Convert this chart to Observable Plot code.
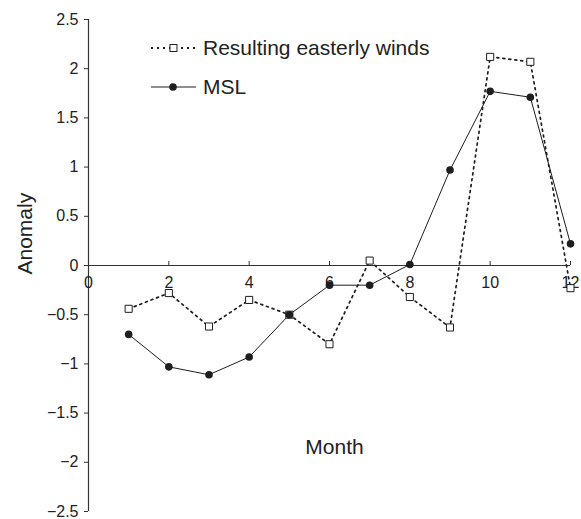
<!DOCTYPE html>
<html>
<head>
<meta charset="utf-8">
<script src="https://cdn.jsdelivr.net/npm/d3@7"></script>
<script src="https://cdn.jsdelivr.net/npm/@observablehq/plot@0.6"></script>
<style>
  html, body { margin: 0; padding: 0; background: #fff; }
  #chart svg { font-family: "Liberation Sans", Arial, sans-serif; }
</style>
</head>
<body>
<div id="chart"></div>
<script>
const months = [1, 2, 3, 4, 5, 6, 7, 8, 9, 10, 11, 12];
const winds = [-0.44, -0.28, -0.62, -0.35, -0.50, -0.80, 0.05, -0.32, -0.63, 2.12, 2.07, -0.23];
const msl = [-0.70, -1.03, -1.11, -0.93, -0.50, -0.20, -0.20, 0.01, 0.97, 1.77, 1.71, 0.22];
const xTicks = [0, 2, 4, 6, 8, 10, 12];
const yTicks = [-2.5, -2, -1.5, -1, -0.5, 0, 0.5, 1, 1.5, 2, 2.5];
const seriesNames = ["Resulting easterly winds", "MSL"];
const xLabel = "Month";
const yLabel = "Anomaly";

const windsData = months.map((m, i) => ({month: m, value: winds[i]}));
const mslData = months.map((m, i) => ({month: m, value: msl[i]}));

const ink = "#1e1e1e";
const dots = "2,4";
const fmt = d => (d < 0 ? "\u2212" + String(-d) : String(d));

const legendMark = () => {
  const g = d3.create("svg:g").attr("text-anchor", "start");
  g.append("line").attr("x1", 151).attr("x2", 197).attr("y1", 48).attr("y2", 48)
    .attr("stroke", ink).attr("stroke-width", 1.8).attr("stroke-dasharray", dots);
  g.append("rect").attr("x", 170).attr("y", 44.5).attr("width", 7).attr("height", 7)
    .attr("fill", "#fff").attr("stroke", ink).attr("stroke-width", 1);
  g.append("text").attr("x", 203).attr("y", 55).attr("font-size", 21).attr("fill", "#222")
    .attr("text-anchor", "start").text(seriesNames[0]);
  g.append("line").attr("x1", 151).attr("x2", 196).attr("y1", 87).attr("y2", 87)
    .attr("stroke", ink).attr("stroke-width", 1);
  g.append("circle").attr("cx", 173).attr("cy", 87).attr("r", 3.8).attr("fill", ink);
  g.append("text").attr("x", 203).attr("y", 94).attr("font-size", 21).attr("fill", "#222")
    .attr("text-anchor", "start").text(seriesNames[1]);
  return g.node();
};

const chart = Plot.plot({
  width: 581,
  height: 519,
  marginLeft: 88,
  marginRight: 11,
  marginTop: 19,
  marginBottom: 8,
  style: {fontFamily: "Liberation Sans, Arial, sans-serif", background: "#fff"},
  x: {domain: [0, 12], axis: null},
  y: {domain: [-2.5, 2.5], axis: null},
  marks: [
    Plot.ruleX([0], {y1: -2.5, y2: 2.5, stroke: "#333", strokeWidth: 1.2}),
    Plot.axisY(yTicks, {anchor: "left", tickSize: 4, tickPadding: 6, tickFormat: fmt,
      fontSize: 16, fill: "#222", stroke: "#333", label: null}),
    Plot.ruleY([0], {x1: 0, x2: 12, stroke: "#333", strokeWidth: 1.2}),
    Plot.ruleX(xTicks, {x: d => d, y1: 0, y2: 0, insetTop: -4, stroke: "#333"}),
    Plot.text(xTicks, {x: d => d, y: 0, dy: 17, text: d => String(d), fontSize: 16, fill: "#222"}),
    Plot.text([xLabel], {frameAnchor: "bottom", dx: 5, dy: -58, fontSize: 21, fill: "#222"}),
    Plot.text([yLabel], {frameAnchor: "left", dx: -63, dy: 9, rotate: -90, fontSize: 21, fill: "#222"}),
    Plot.line(windsData, {x: "month", y: "value", stroke: ink, strokeWidth: 1.7, strokeDasharray: dots}),
    Plot.line(mslData, {x: "month", y: "value", stroke: ink, strokeWidth: 1}),
    Plot.dot(windsData, {x: "month", y: "value", symbol: "square", r: 4, fill: "#fff", stroke: ink, strokeWidth: 1}),
    Plot.dot(mslData, {x: "month", y: "value", r: 3.8, fill: ink}),
    legendMark
  ]
});
document.getElementById("chart").appendChild(chart);
</script>
</body>
</html>
